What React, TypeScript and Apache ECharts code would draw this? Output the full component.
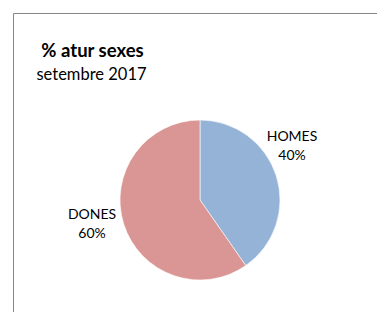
import React, { useEffect, useRef } from "react";
import * as echarts from "echarts";

const categories = ["HOMES", "DONES"];
const values = [40.3, 59.7];
const sliceColors = ["#95B3D7", "#D99694"];
const titleText = "% atur sexes";
const subtitleText = "setembre 2017";

const FONT = "Lato, 'Open Sans', sans-serif";

export default function App() {
  const ref = useRef<HTMLDivElement>(null);
  useEffect(() => {
    if (!ref.current) return;
    const chart = echarts.init(ref.current, null, { renderer: "svg" });
    const labelPos: Record<string, [number, number]> = {
      HOMES: [292, 145],
      DONES: [92, 223],
    };
    chart.setOption({
      animation: false,
      backgroundColor: "#ffffff",
      graphic: [
        {
          type: "rect",
          shape: { x: 13.5, y: 13.5, width: 400, height: 400 },
          style: { fill: "none", stroke: "#868686", lineWidth: 1 },
          silent: true,
        },
        {
          type: "text",
          x: 92.5,
          y: 49.5,
          style: {
            text: titleText,
            fontFamily: FONT,
            fontSize: 18.5,
            fontWeight: "bold",
            fill: "#000",
            align: "center",
            verticalAlign: "middle",
          },
        },
        {
          type: "text",
          x: 91.5,
          y: 73.5,
          style: {
            text: subtitleText,
            fontFamily: FONT,
            fontSize: 16.5,
            fill: "#000",
            align: "center",
            verticalAlign: "middle",
          },
        },
      ],
      series: [
        {
          type: "pie",
          center: [200, 200],
          radius: 80,
          startAngle: 90,
          clockwise: true,
          data: categories.map((name, i) => ({
            name,
            value: values[i],
            itemStyle: { color: sliceColors[i] },
          })),
          itemStyle: { borderColor: "#ffffff", borderWidth: 0.6 },
          label: {
            show: true,
            position: "outside",
            overflow: "none",
            fontFamily: FONT,
            fontSize: 14,
            color: "#000",
            lineHeight: 19.5,
            align: "center",
            formatter: (p: any) => `${p.name}\n${Math.round(p.percent)}%`,
          },
          labelLine: { show: false },
          labelLayout: (params: any) => {
            const name = categories[params.dataIndex];
            const pos = labelPos[name];
            return {
              x: pos[0],
              y: pos[1],
              align: "center",
              verticalAlign: "middle",
            };
          },
          emphasis: { disabled: true },
        },
      ],
    });
    return () => chart.dispose();
  }, []);
  return (
    <div
      ref={ref}
      style={{ position: "absolute", left: 0, top: 0, width: 377, height: 312 }}
    />
  );
}
